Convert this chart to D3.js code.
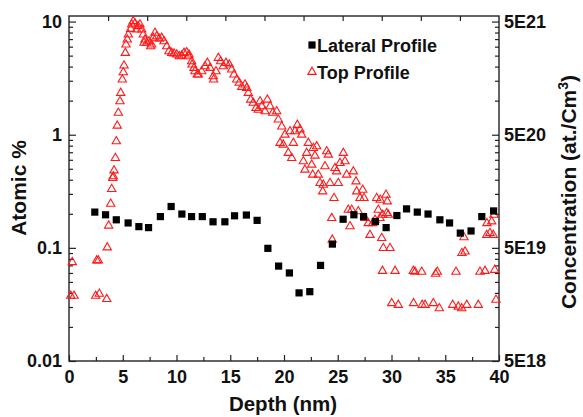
<!DOCTYPE html>
<html>
<head>
<meta charset="utf-8">
<script src="https://cdn.jsdelivr.net/npm/d3@7"></script>
<style>
  body { margin: 0; background: #fff; }
  svg text { font-family: "Liberation Sans", Arial, sans-serif; font-weight: bold; fill: #111; }
</style>
</head>
<body>
<div id="chart"></div>
<script>
// Lateral profile (black squares)
const latDepth = [2.4, 3.4, 4.4, 5.5, 6.5, 7.4, 8.5, 9.5, 10.5, 11.4, 12.4, 13.4, 14.5, 15.4, 16.5, 17.5, 18.5, 19.5, 20.5,
  21.4, 22.4, 23.4, 24.5, 25.5, 26.5, 27.4, 28.5, 29.5, 30.5, 31.4, 32.4, 33.4, 34.5, 35.4, 36.4, 37.4, 38.4, 39.5];
const latValue = [0.207, 0.196, 0.177, 0.166, 0.154, 0.151, 0.189, 0.232, 0.199, 0.189, 0.189, 0.170, 0.170, 0.192, 0.195, 0.175, 0.099, 0.069, 0.060,
  0.040, 0.041, 0.070, 0.108, 0.179, 0.196, 0.189, 0.171, 0.151, 0.193, 0.221, 0.207, 0.199, 0.177, 0.166, 0.135, 0.141, 0.189, 0.212];

// Top profile (open red triangles)
const topDepth = [0.16, 0.31, 0.47, 2.48, 2.58, 2.73, 2.82, 3.51, 3.56, 3.69, 3.88, 3.97, 4.07, 4.12, 4.19, 4.31, 4.40, 4.49, 4.59, 4.74,
  4.81, 4.96, 5.05, 5.12, 5.24, 5.30, 5.42, 5.52, 5.74, 5.83, 5.98, 6.14, 6.30, 6.42, 6.60, 6.76, 6.91, 6.98, 7.07, 7.23,
  7.44, 7.60, 7.69, 7.84, 8.00, 8.16, 8.40, 8.62, 8.84, 9.09, 9.30, 9.55, 9.77, 10.02, 10.26, 10.48, 10.70, 10.95, 11.10, 11.16,
  11.41, 11.45, 11.63, 11.72, 11.93, 12.03, 12.34, 12.65, 12.87, 13.12, 13.42, 13.45, 13.67, 13.89, 14.11, 14.35, 14.60, 14.91, 15.13, 15.35,
  15.60, 15.84, 16.07, 16.37, 16.53, 16.68, 16.90, 17.14, 17.40, 17.61, 17.77, 17.93, 18.23, 18.45, 18.70, 18.95, 19.32, 19.47, 19.63, 19.79,
  19.93, 20.09, 20.40, 20.56, 20.72, 20.87, 21.02, 21.24, 21.49, 21.65, 21.80, 21.95, 22.11, 22.26, 22.58, 22.67, 22.73, 22.88, 23.04, 23.19,
  23.35, 23.60, 23.66, 23.81, 23.97, 24.12, 24.28, 24.44, 24.49, 24.65, 24.74, 24.90, 25.05, 25.21, 25.52, 25.67, 25.83, 25.98, 26.14, 26.30,
  26.45, 26.70, 26.76, 26.91, 27.07, 27.32, 27.44, 27.53, 27.84, 28.00, 28.25, 28.47, 28.62, 28.77, 28.93, 28.95, 29.09, 29.16, 29.18, 29.24,
  29.49, 29.55, 29.61, 29.70, 29.86, 30.02, 30.33, 30.63, 32.03, 32.05, 32.19, 32.81, 32.85, 33.12, 33.89, 34.10, 34.26, 34.45, 35.69, 36.00,
  36.21, 36.53, 36.55, 36.74, 36.84, 37.00, 38.07, 38.23, 38.70, 38.86, 38.88, 39.16, 39.32, 39.47, 39.53, 39.60, 39.72];
const topValue = [0.0376, 0.0746, 0.0376, 0.0376, 0.0773, 0.0773, 0.0392, 0.0352, 0.1007, 0.157, 0.245, 0.331, 0.414, 0.428, 0.483, 0.622, 0.873, 1.20, 1.56, 1.97,
  2.34, 3.07, 3.56, 4.08, 5.28, 6.26, 6.93, 7.67, 8.61, 9.40, 10.07, 9.60, 8.49, 9.10, 9.40, 8.49, 7.67, 6.48, 6.93, 6.48,
  6.69, 6.04, 6.26, 7.17, 7.94, 7.41, 7.03, 7.17, 6.69, 6.04, 5.46, 5.28, 5.21, 5.10, 4.93, 4.99, 5.28, 5.35, 4.93, 5.10,
  4.45, 4.16, 3.89, 3.63, 3.40, 3.40, 3.63, 4.02, 4.31, 3.89, 3.28, 3.07, 3.63, 4.77, 4.45, 4.02, 4.31, 4.16, 3.76, 3.40,
  3.07, 2.87, 2.64, 2.77, 2.59, 2.34, 2.04, 1.91, 1.72, 1.66, 1.97, 1.78, 1.61, 2.04, 1.78, 1.56, 1.61, 1.36, 0.846, 1.18,
  0.816, 1.00, 0.689, 1.07, 0.622, 0.846, 1.07, 1.22, 1.11, 1.00, 0.581, 0.490, 0.689, 0.846, 0.543, 0.443, 0.762, 0.652, 0.788, 0.443,
  0.374, 0.315, 0.361, 0.525, 0.712, 0.665, 0.374, 0.183, 0.118, 0.275, 0.507, 0.473, 0.374, 0.562, 0.689, 0.581, 0.443, 0.217, 0.155, 0.217,
  0.473, 0.386, 0.315, 0.210, 0.275, 0.326, 0.275, 0.183, 0.165, 0.130, 0.165, 0.177, 0.275, 0.217, 0.183, 0.266, 0.122, 0.0625, 0.196, 0.0994,
  0.294, 0.203, 0.257, 0.196, 0.0994, 0.0324, 0.0625, 0.0313, 0.0625, 0.0324, 0.0613, 0.0613, 0.0313, 0.0313, 0.0324, 0.059, 0.0613, 0.0292, 0.0313, 0.0613,
  0.0302, 0.0292, 0.0898, 0.124, 0.0927, 0.0313, 0.0313, 0.0613, 0.0625, 0.130, 0.165, 0.135, 0.171, 0.130, 0.196, 0.0638, 0.0347];

const xTicks = [0, 5, 10, 15, 20, 25, 30, 35, 40];
const yTicks = [0.01, 0.1, 1, 10];
const yTickLabels = ["0.01", "0.1", "1", "10"];
const concTickLabels = ["5E18", "5E19", "5E20", "5E21"];
const seriesNames = ["Lateral Profile", "Top Profile"];

const width = 583, height = 417;
const plot = { left: 69, right: 499, top: 16, bottom: 361 };

const svg = d3.select("#chart").append("svg")
  .attr("width", width)
  .attr("height", height);

const x = d3.scaleLinear().domain([0, 40]).range([plot.left, plot.right]);
const y = d3.scaleLog().domain([0.01, 11.2]).range([plot.bottom, plot.top]);

// minor ticks on the log axis: 2..9 of each decade
const yMinor = [];
[0.01, 0.1, 1].forEach(dec => d3.range(2, 10).forEach(k => yMinor.push(dec * k)));
const xMinor = d3.range(2.5, 40, 5);
const topTicks = d3.range(1, 11).map(k => k * 40 / 11);

function clean(g) {
  g.select(".domain").remove();
  g.selectAll("line").attr("stroke", "#222").attr("stroke-width", 1.2);
  g.selectAll("text").attr("font-size", 18).attr("fill", "#111");
}

// left
svg.append("g").attr("transform", `translate(${plot.left},0)`)
  .call(d3.axisLeft(y).tickValues(yTicks).tickFormat((d, i) => yTickLabels[i]).tickSize(-7).tickPadding(7))
  .call(clean);
svg.append("g").attr("transform", `translate(${plot.left},0)`)
  .call(d3.axisLeft(y).tickValues(yMinor).tickFormat("").tickSize(-4))
  .call(clean);

// right
svg.append("g").attr("transform", `translate(${plot.right},0)`)
  .call(d3.axisRight(y).tickValues(yTicks).tickFormat((d, i) => concTickLabels[i]).tickSize(-7).tickPadding(5))
  .call(clean);
svg.append("g").attr("transform", `translate(${plot.right},0)`)
  .call(d3.axisRight(y).tickValues(yMinor).tickFormat("").tickSize(-4))
  .call(clean);

// bottom
svg.append("g").attr("transform", `translate(0,${plot.bottom})`)
  .call(d3.axisBottom(x).tickValues(xTicks).tickSize(-6).tickPadding(9))
  .call(clean);
svg.append("g").attr("transform", `translate(0,${plot.bottom})`)
  .call(d3.axisBottom(x).tickValues(xMinor).tickFormat("").tickSize(-4))
  .call(clean);

// top
svg.append("g").attr("transform", `translate(0,${plot.top})`)
  .call(d3.axisTop(x).tickValues(topTicks).tickFormat("").tickSize(-5))
  .call(clean);

// frame
svg.append("rect")
  .attr("x", plot.left).attr("y", plot.top)
  .attr("width", plot.right - plot.left).attr("height", plot.bottom - plot.top)
  .attr("fill", "none").attr("stroke", "#222").attr("stroke-width", 1.4);

const tri = d3.symbol().type(d3.symbolTriangle).size(30);
const sq = d3.symbol().type(d3.symbolSquare).size(52);

const topData = topDepth.map((d, i) => ({ depth: d, value: topValue[i] }));
const latData = latDepth.map((d, i) => ({ depth: d, value: latValue[i] }));

svg.append("g").selectAll("path")
  .data(topData)
  .enter()
  .append("path")
  .attr("d", tri)
  .attr("transform", d => `translate(${x(d.depth)},${y(d.value)})`)
  .attr("fill", "none")
  .attr("stroke", "#ff1a1a")
  .attr("stroke-width", 1.1);

svg.append("g").selectAll("path")
  .data(latData)
  .enter()
  .append("path")
  .attr("d", sq)
  .attr("transform", d => `translate(${x(d.depth)},${y(d.value)})`)
  .attr("fill", "#000");

// axis titles
svg.append("text")
  .attr("x", 283).attr("y", 411)
  .attr("text-anchor", "middle")
  .attr("font-size", 20.5)
  .text("Depth (nm)");

svg.append("text")
  .attr("transform", "translate(26,188) rotate(-90)")
  .attr("text-anchor", "middle")
  .attr("font-size", 21)
  .text("Atomic %");

const rt = svg.append("text")
  .attr("transform", "translate(576,192) rotate(-90)")
  .attr("text-anchor", "middle")
  .attr("font-size", 21);
rt.append("tspan").text("Concentration (at./Cm");
rt.append("tspan").attr("font-size", 14).attr("dy", -8).text("3");
rt.append("tspan").attr("dy", 8).text(")");

// legend
const legend = svg.append("g").attr("transform", "translate(312,45)");
legend.selectAll("g")
  .data(seriesNames)
  .enter()
  .append("g")
  .attr("transform", (d, i) => `translate(0,${i * 27})`)
  .each(function (d, i) {
    const g = d3.select(this);
    if (i === 0) g.append("path").attr("d", sq).attr("fill", "#000");
    else g.append("path").attr("d", tri).attr("fill", "none").attr("stroke", "#ff1a1a").attr("stroke-width", 1.1);
    g.append("text").attr("x", 5).attr("y", 7).attr("font-size", 18).text(d);
  });
</script>
</body>
</html>
